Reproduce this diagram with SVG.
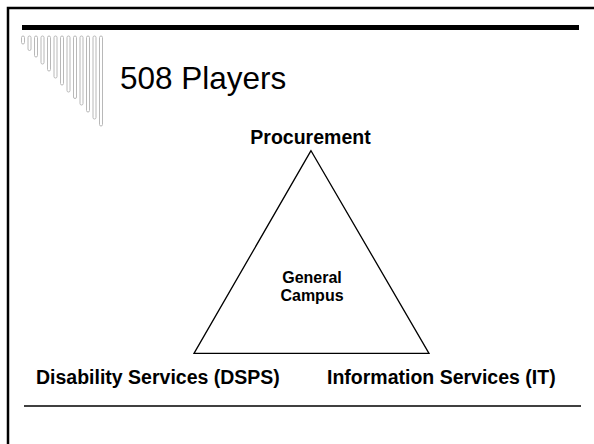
<svg xmlns="http://www.w3.org/2000/svg" width="594" height="444" viewBox="0 0 594 444">
  <style>
    .lbl { font-family: "Liberation Sans", Arial, sans-serif; font-weight: bold; font-size: 19.5px; fill: #000; }
    .ctr { font-family: "Liberation Sans", Arial, sans-serif; font-weight: bold; font-size: 16px; fill: #000; text-anchor: middle; }
    .title { font-family: "Liberation Sans", Arial, sans-serif; font-size: 31.5px; fill: #000; }
    .comb rect { fill: #fff; stroke: #b8b8b8; stroke-width: 1; }
    .edge { stroke: #000; stroke-width: 1.3; fill: none; }
  </style>
  <rect x="0" y="0" width="594" height="444" fill="#fff"/>
  <!-- slide frame -->
  <rect x="8" y="8" width="600" height="450" fill="none" stroke="#000" stroke-width="2.5"/>
  <rect x="22" y="25" width="557" height="5" fill="#000"/>
  <line x1="24" y1="406" x2="581" y2="406" stroke="#000" stroke-width="1.3"/>
  <g class="comb">
    <rect x="21.5" y="36" width="3" height="8" rx="1.5"/>
    <rect x="28" y="36" width="3" height="14.5" rx="1.5"/>
    <rect x="34.5" y="36" width="3" height="21" rx="1.5"/>
    <rect x="41" y="36" width="3" height="28" rx="1.5"/>
    <rect x="47.5" y="36" width="3" height="35" rx="1.5"/>
    <rect x="54" y="36" width="3" height="42" rx="1.5"/>
    <rect x="60.5" y="36" width="3" height="49" rx="1.5"/>
    <rect x="67" y="36" width="3" height="56" rx="1.5"/>
    <rect x="73.5" y="36" width="3" height="62.5" rx="1.5"/>
    <rect x="80" y="36" width="3" height="69" rx="1.5"/>
    <rect x="86.5" y="36" width="3" height="76" rx="1.5"/>
    <rect x="93" y="36" width="3" height="83" rx="1.5"/>
    <rect x="99.5" y="36" width="3" height="90" rx="1.5"/>
  </g>
  <text class="title" x="120" y="89">508 Players</text>
  <g id="connectors">
    <polygon class="edge" points="311,150.7 194,353.3 429,353.3"/>
  </g>
  <g id="procurement">
    <text class="lbl" x="310.5" y="144" text-anchor="middle">Procurement</text>
  </g>
  <g id="general-campus">
    <text class="ctr" x="312" y="282.7">General</text>
    <text class="ctr" x="312" y="300.7">Campus</text>
  </g>
  <g id="dsps">
    <text class="lbl" x="36" y="384">Disability Services (DSPS)</text>
  </g>
  <g id="it">
    <text class="lbl" x="327" y="384">Information Services (IT)</text>
  </g>
</svg>
